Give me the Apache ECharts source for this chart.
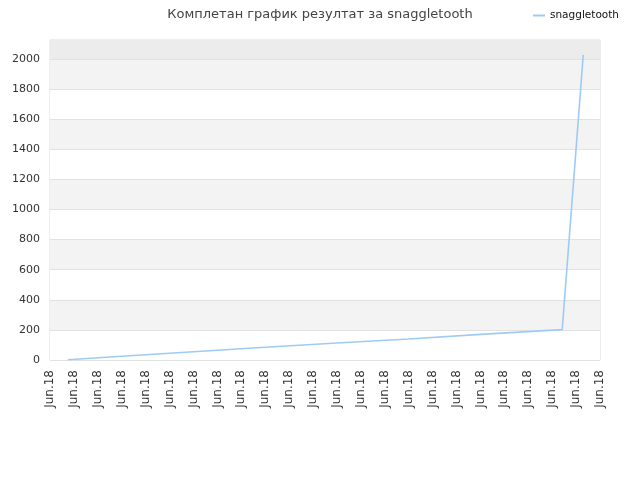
<!DOCTYPE html>
<html>
<head>
<meta charset="utf-8">
<script src="https://cdn.jsdelivr.net/npm/echarts@6/dist/echarts.min.js"></script>
<style>
	html, body { margin: 0; padding: 0; background: #fff; }
	#chart { width: 640px; height: 480px; }
</style>
</head>
<body>
<div id="chart"></div>
<script>
	// ticks on the x axis (all the same date)
	var xTicks = ['Jun.18', 'Jun.18', 'Jun.18', 'Jun.18', 'Jun.18', 'Jun.18', 'Jun.18', 'Jun.18',
		'Jun.18', 'Jun.18', 'Jun.18', 'Jun.18', 'Jun.18', 'Jun.18', 'Jun.18', 'Jun.18',
		'Jun.18', 'Jun.18', 'Jun.18', 'Jun.18', 'Jun.18', 'Jun.18', 'Jun.18', 'Jun.18'];
	// positions along the x axis (tick index) and the score
	var pointX = [0.75, 3, 6, 9, 12, 15, 18, 21.42, 22.3];
	var pointY = [2, 25, 55, 85, 113, 140, 170, 202, 2027];
	var seriesName = 'snaggletooth';

	var chart = echarts.init(document.getElementById('chart'));

	var data = [];
	for (var i = 0; i < pointX.length; i++) {
		data.push([pointX[i], pointY[i]]);
	}

	chart.setOption({
		animation: false,
		textStyle: { fontFamily: 'DejaVu Sans' },
		title: {
			text: 'Комплетан график резултат за snaggletooth',
			left: 'center',
			top: 3,
			textStyle: { fontSize: 13, fontWeight: 'normal', color: '#444' }
		},
		legend: {
			right: 16,
			top: 5,
			itemWidth: 12,
			itemHeight: 2,
			itemGap: 8,
			icon: 'rect',
			textStyle: { fontSize: 10.5, color: '#111' },
			data: [seriesName]
		},
		grid: {
			left: 50,
			right: 40,
			top: 40,
			bottom: 120,
			show: true,
			borderColor: '#dcdcdc',
			borderWidth: 1
		},
		xAxis: {
			type: 'value',
			min: 0,
			max: xTicks.length - 1,
			interval: 1,
			axisLine: { show: false },
			axisTick: { show: false },
			splitLine: { show: false },
			axisLabel: {
				rotate: 90,
				fontSize: 12,
				color: '#333',
				margin: 10,
				formatter: function(v) {
					return xTicks[Math.round(v)] || '';
				}
			}
		},
		yAxis: {
			type: 'value',
			min: 0,
			max: 2126,
			interval: 200,
			axisLine: { show: false },
			axisTick: { show: false },
			axisLabel: {
				fontSize: 11,
				color: '#333',
				margin: 10,
				formatter: function(v) {
					return v % 200 === 0 ? v : '';
				}
			},
			splitLine: { lineStyle: { color: '#e2e2e2' } },
			splitArea: {
				show: true,
				areaStyle: { color: ['#ffffff', '#f3f3f3'] }
			}
		},
		series: [{
			name: seriesName,
			type: 'line',
			data: data,
			symbol: 'none',
			lineStyle: { color: '#9ecbf5', width: 1.6 },
			itemStyle: { color: '#9ecbf5' },
			markArea: {
				silent: true,
				itemStyle: { color: '#ececec' },
				data: [[{ yAxis: 2000 }, { yAxis: 2126 }]]
			}
		}]
	});
</script>
</body>
</html>
